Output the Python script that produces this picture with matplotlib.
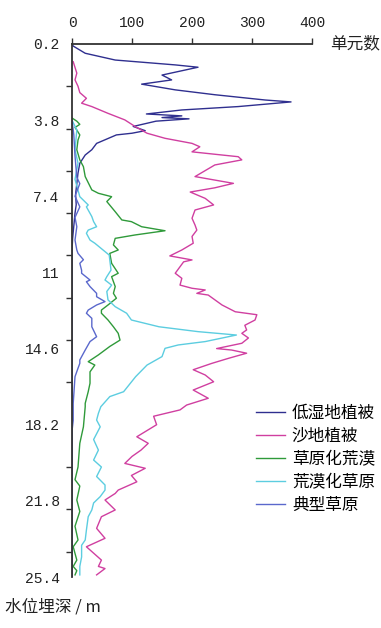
import matplotlib.pyplot as plt
import numpy as np

plt.rcParams['font.family'] = ['Noto Sans CJK SC', 'DejaVu Sans']

# 低湿地植被
dw_depth = [0.2, 0.3, 0.64, 0.96, 1.19, 1.3, 1.67, 1.9, 2.1, 2.37, 2.6, 2.85, 2.94,
            3.16, 3.32, 3.51, 3.6, 3.68, 3.74, 3.85, 4.1, 4.3, 4.42, 4.5, 4.9, 5.2,
            5.45, 5.84, 6.3, 6.8, 7.3, 7.8, 8.2, 8.8, 9.4, 10.0, 25.4]
dw_vals = [0, 2, 22, 72, 172, 210, 150, 166, 116, 172, 238, 322, 365,
           277, 183, 124, 183, 150, 195, 140, 102, 122, 100, 74, 41, 33,
           22, 13, 10, 8, 6, 7, 5, 3, 1, 0, 0]

# 沙地植被
sd_depth = [1.04, 1.58, 1.9, 2.2, 2.5, 2.77, 3.0, 3.16, 3.48, 3.79, 4.1, 4.42, 4.66,
            4.9, 5.06, 5.3, 5.45, 5.53, 5.68, 5.92, 6.47, 6.79, 7.0, 7.2, 7.5, 7.81,
            8.05, 8.44, 8.76, 9.0, 9.3, 9.62, 9.94, 10.22, 10.41, 10.5, 11.04, 11.28,
            11.6, 11.75, 11.83, 11.99, 12.07, 12.54, 12.86, 13.0, 13.25, 13.5, 13.72,
            13.88, 14.1, 14.35, 14.6, 14.67, 14.82, 15.06, 15.3, 15.6, 15.85, 16.17,
            16.56, 16.95, 17.27, 17.5, 17.8, 18.2, 18.77, 19.08, 19.4, 19.7, 20.03,
            20.26, 20.6, 20.9, 21.29, 21.45, 21.76, 22.23, 22.55, 23.1, 23.57, 23.97,
            24.6, 24.9, 25.0, 25.3]
sd_vals = [2, 8, 5, 10, 13, 24, 16, 33, 60, 88, 105, 125, 155,
           200, 213, 200, 250, 277, 283, 238, 205, 269, 238, 197, 222, 236,
           205, 200, 205, 208, 200, 202, 183, 163, 200, 186, 172, 183,
           180, 200, 222, 208, 227, 250, 272, 308, 305, 288, 291,
           283, 294, 283, 241, 266, 291, 261, 233, 202, 222, 236,
           202, 227, 191, 180, 136, 141, 108, 127, 115, 100, 88,
           122, 99, 108, 77, 72, 55, 72, 49, 41, 55, 24,
           49, 44, 55, 41]

# 草原化荒漠
cy_depth = [3.7, 3.85, 4.0, 4.15, 4.27, 4.5, 4.74, 5.2, 5.68, 6.0, 6.47, 7.1, 7.26,
            7.42, 7.65, 8.13, 8.52, 8.6, 8.84, 9.03, 9.23, 9.39, 9.7, 9.94, 10.1,
            10.57, 11.04, 11.2, 11.67, 11.99, 12.22, 12.54, 12.78, 12.93, 13.25,
            13.57, 13.88, 14.2, 14.5, 14.9, 15.22, 15.38, 15.7, 16.24, 16.64, 17.19,
            17.35, 18.3, 19.08, 20.2, 20.8, 21.1, 21.76, 22.3, 23.0, 23.65, 23.97,
            24.6, 24.9, 25.1, 25.3]
cy_vals = [0, 8, 13, 5, 8, 13, 10, 8, 13, 19, 22, 33, 44,
           66, 58, 72, 83, 99, 116, 155, 105, 72, 69, 77, 63,
           66, 77, 66, 72, 69, 74, 60, 49, 49, 60,
           69, 77, 80, 63, 44, 27, 38, 30, 30, 27, 22,
           22, 19, 13, 10, 5, 13, 8, 13, 5, 10, 2,
           8, 2, 8, 5]

# 荒漠化草原
hm_depth = [3.8, 4.27, 5.2, 5.84, 6.6, 7.42, 7.81, 7.9, 8.36, 8.6, 8.84, 9.0, 9.15,
            9.47, 9.62, 10.18, 10.89, 11.2, 11.36, 11.6, 11.9, 12.3, 12.62, 12.93,
            13.25, 13.57, 13.8, 13.96, 14.27, 14.43, 14.59, 14.98, 15.38, 15.93,
            16.64, 16.87, 17.03, 17.35, 17.66, 17.98, 18.3, 18.9, 19.4, 19.87, 20.2,
            20.65, 21.05, 21.29, 21.6, 21.9, 22.23, 22.55, 23.18, 23.65, 23.9, 24.45,
            24.9, 25.3]
hm_vals = [0, 8, 5, 10, 5, 13, 27, 24, 33, 36, 41, 27, 24,
           30, 38, 62, 65, 58, 55, 66, 58, 60, 72, 91,
           99, 145, 210, 274, 222, 177, 155, 150, 125, 106,
           86, 63, 58, 48, 44, 41, 47, 36, 44, 36, 49,
           41, 55, 55, 47, 36, 33, 27, 24, 22, 16, 16,
           13, 13]

# 典型草原
dx_depth = [3.8, 4.5, 5.5, 6.5, 6.8, 7.4, 7.9, 8.4, 8.84, 9.47, 9.94, 10.1, 10.4,
            10.57, 10.9, 11.04, 11.36, 11.44, 11.67, 11.99, 12.15, 12.38, 12.54,
            12.78, 12.93, 13.17, 13.57, 14.04, 14.27, 14.67, 15.14, 15.3, 15.53,
            15.93, 17.19, 18.0, 18.5, 21.0]
dx_vals = [0, 3, 5, 8, 13, 5, 13, 5, 8, 5, 8, 10, 19,
           13, 16, 16, 30, 24, 30, 41, 41, 55, 41,
           27, 24, 33, 33, 41, 30, 22, 13, 13, 10,
           5, 2, 2, 0, 0]

series = [
    ('低湿地植被', dw_depth, dw_vals, '#2f2f8f'),
    ('沙地植被', sd_depth, sd_vals, '#d03fa0'),
    ('草原化荒漠', cy_depth, cy_vals, '#2f9a3a'),
    ('荒漠化草原', hm_depth, hm_vals, '#5ccde0'),
    ('典型草原', dx_depth, dx_vals, '#5a68cc'),
]

y_labels = [0.2, 3.8, 7.4, 11, 14.6, 18.2, 21.8, 25.4]

fig = plt.figure(figsize=(3.81, 6.28), dpi=100)
ax = fig.add_axes([0.189, 0.0812, 0.630, 0.8488])

for name, d, v, c in series:
    ax.plot(v, d, color=c, lw=1.0, label=name)

ax.set_xlim(0, 400)
ax.set_ylim(25.4, 0.2)
ax.xaxis.tick_top()
ax.set_xticks([0, 100, 200, 300, 400])
ax.set_yticks(y_labels)
ax.set_yticklabels(['%g' % t for t in y_labels])
ax.set_yticks(np.arange(0.2, 25.4, 2.0), minor=True)

for lab in ax.get_xticklabels() + ax.get_yticklabels():
    lab.set_family('Liberation Mono')
    lab.set_fontsize(10.5)
    lab.set_color('#222222')

ax.tick_params(axis='x', which='major', direction='out', length=4, width=1,
               pad=6, color='#333333')
ax.tick_params(axis='y', which='major', length=0, pad=9)
ax.tick_params(axis='y', which='minor', direction='out', length=4, width=1,
               color='#333333')

for s in ['right', 'bottom']:
    ax.spines[s].set_visible(False)
for s in ['left', 'top']:
    ax.spines[s].set_color('#333333')
    ax.spines[s].set_linewidth(1.3)

fig.text(0.866, 0.930, '单元数', fontsize=12, va='center', ha='left', color='#222222')
fig.text(0.013, 0.033, '水位埋深 / m', fontsize=12, va='center', ha='left', color='#222222')

fig.legend(loc='upper left', bbox_to_anchor=(0.672, 0.355), frameon=False,
           fontsize=12, handlelength=1.75, handletextpad=0.4, labelspacing=0.36,
           borderpad=0, borderaxespad=0)

fig.savefig('out.png', dpi=100)
